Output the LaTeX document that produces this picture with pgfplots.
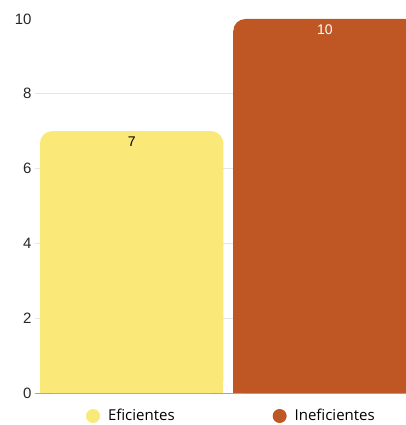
\documentclass[border=0pt]{standalone}
\usepackage{pgfplots}
\pgfplotsset{compat=1.18}
\usepackage{fontspec}
\setmainfont{Open Sans}
\newfontfamily\arialf{Liberation Sans}
\definecolor{cyel}{RGB}{250,233,120}
\definecolor{corg}{RGB}{190,87,35}
\begin{document}
\begin{tikzpicture}
\useasboundingbox (0,0) rectangle (406pt,425pt);
\clip (0,0) rectangle (406pt,425pt);
\begin{axis}[
  at={(35pt,32pt)}, anchor=south west,
  scale only axis, width=386.6pt, height=374pt,
  xmin=-0.5, xmax=1.5, ymin=0, ymax=10,
  xtick=\empty,
  ytick={0,2,4,6,8}, extra y ticks={10}, extra y tick style={grid=none},
  ymajorgrids, grid style={draw=black!10, line width=0.8pt},
  major tick length=0pt,
  axis x line=bottom, axis y line=left,
  y axis line style={draw=none},
  x axis line style={draw=black!35, line width=0.8pt, -},
  /pgf/number format/assume math mode=true,
  yticklabel style={font=\arialf\fontsize{15}{18}\selectfont, text=black!85},
  ybar, bar width=183.3pt,
  legend style={at={(0.508,-0.0615)}, anchor=center, draw=none, fill=none,
    legend columns=2, font=\fontsize{15}{18}\selectfont,
    /tikz/every odd column/.append style={column sep=6pt},
    /tikz/every even column/.append style={column sep=96pt}},
  legend cell align=left,
  clip=false,
]
\addplot[ybar, bar shift=0pt, fill=cyel, draw=none, rounded corners=12pt,
  nodes near coords, nodes near coords style={anchor=north, yshift=-2pt, text=black, font=\arialf\fontsize{14}{16}\selectfont},
  legend image code/.code={\fill[cyel] (0.25em,0) circle (7pt);}]
  coordinates {(0,7)};
\addlegendentry{Eficientes}
\addplot[ybar, bar shift=0pt, fill=corg, draw=none, rounded corners=12pt,
  nodes near coords, nodes near coords style={anchor=north, yshift=-2pt, text=white, font=\arialf\fontsize{14}{16}\selectfont},
  legend image code/.code={\fill[corg] (0.25em,0) circle (7pt);}]
  coordinates {(1,10)};
\addlegendentry{Ineficientes}
\addplot[ybar, bar shift=0pt, fill=cyel, draw=none, forget plot, y filter/.expression={y-0.33}]
  coordinates {(0,7)};
\addplot[ybar, bar shift=0pt, fill=corg, draw=none, forget plot, y filter/.expression={y-0.33}]
  coordinates {(1,10)};
\end{axis}
\end{tikzpicture}
\end{document}
